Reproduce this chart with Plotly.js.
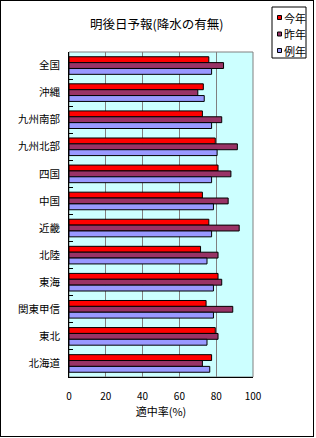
<!DOCTYPE html>
<html><head><meta charset="utf-8">
<script src="https://cdn.plot.ly/plotly-3.0.1.min.js"></script>
<style>
html,body{margin:0;padding:0;background:#fff;}
#wrap{position:relative;width:316px;height:438px;}
#chart{position:absolute;left:0;top:0;width:316px;height:438px;}
#frame{position:absolute;left:0;top:0;width:314px;height:437px;border:1px solid #000;box-sizing:border-box;pointer-events:none;}
</style></head>
<body>
<div id="wrap"><div id="chart"></div><div id="frame"></div></div>
<script>
const categories = ["全国","沖縄","九州南部","九州北部","四国","中国","近畿","北陸","東海","関東甲信","東北","北海道"];
const seriesNames = ["今年","昨年","例年"];
const thisYear = [76,73,72.5,79.5,81,72.5,76,71.5,81,74.5,79.5,77.5];
const lastYear = [84,70,83,91.5,88,86.5,92.5,81,83,89,81,72.5];
const normalYear = [77.5,73.5,77.5,80.5,77.5,78.5,77.5,75,78.5,78.5,75,76.5];
const seriesColors = ["#FF0000","#993366","#9999FF"];
const xTicks = [0,20,40,60,80,100];

const font = "Noto Sans CJK JP, sans-serif";
const values = [thisYear,lastYear,normalYear];
const traces = values.map((v,i)=>({
  type:"bar", orientation:"h", name:seriesNames[i],
  y:categories, x:v,
  marker:{color:seriesColors[i], line:{color:"#000", width:1}},
  hoverinfo:"none"
}));

const L=69, R=253, T=52, B=377;
const px = x => (x-L)/(R-L);
const py = y => (B-y)/(B-T);

const shapes = [
  {type:"rect", xref:"paper", yref:"paper", x0:0, x1:1, y0:0, y1:1, line:{color:"#808080", width:1}, layer:"below"},
  {type:"rect", xref:"paper", yref:"paper", x0:px(272), x1:px(306), y0:py(7), y1:py(58), line:{color:"#000", width:1}, fillcolor:"#fff"}
];
const annotations = [
  {xref:"paper", yref:"paper", x:px(156), y:py(23), xanchor:"center", yanchor:"middle", text:"明後日予報(降水の有無)", showarrow:false, font:{family:font, size:12.5, color:"#000"}}
];
const legY = [18, 34.5, 51];
seriesNames.forEach((n,i)=>{
  shapes.push({type:"rect", xref:"paper", yref:"paper", x0:px(277.5), x1:px(281.5), y0:py(legY[i]-2.5), y1:py(legY[i]+1.5), fillcolor:seriesColors[i], line:{color:"#000", width:1}});
  annotations.push({xref:"paper", yref:"paper", x:px(282), y:py(legY[i]), xanchor:"left", yanchor:"middle", text:n, showarrow:false, font:{family:font, size:11, color:"#000"}});
});

const layout = {
  width:316, height:438,
  margin:{l:L, r:316-R, t:T, b:438-B, pad:0},
  paper_bgcolor:"#fff", plot_bgcolor:"#CCFFFF",
  barmode:"group", bargap:0.35, bargroupgap:0,
  showlegend:false,
  xaxis:{range:[0,100], tickvals:xTicks, ticktext:xTicks.map(String), showgrid:true, gridcolor:"#808080", gridwidth:1,
    zeroline:false, showline:true, linecolor:"#000", linewidth:1, ticks:"", ticklabelstandoff:10,
    tickfont:{family:font, size:10, color:"#000"},
    title:{text:"適中率(%)", font:{family:font, size:11, color:"#000"}, standoff:6}, fixedrange:true},
  yaxis:{autorange:"reversed", type:"category", showline:true, linecolor:"#000", linewidth:1, ticks:"inside", tickson:"boundaries",
    ticklen:4, tickcolor:"#000", tickwidth:1, showgrid:false, ticklabelstandoff:6,
    tickfont:{family:font, size:10.5, color:"#000"}, fixedrange:true},
  shapes:shapes, annotations:annotations
};
Plotly.newPlot("chart", traces, layout, {staticPlot:true, displayModeBar:false});
</script>
</body></html>
